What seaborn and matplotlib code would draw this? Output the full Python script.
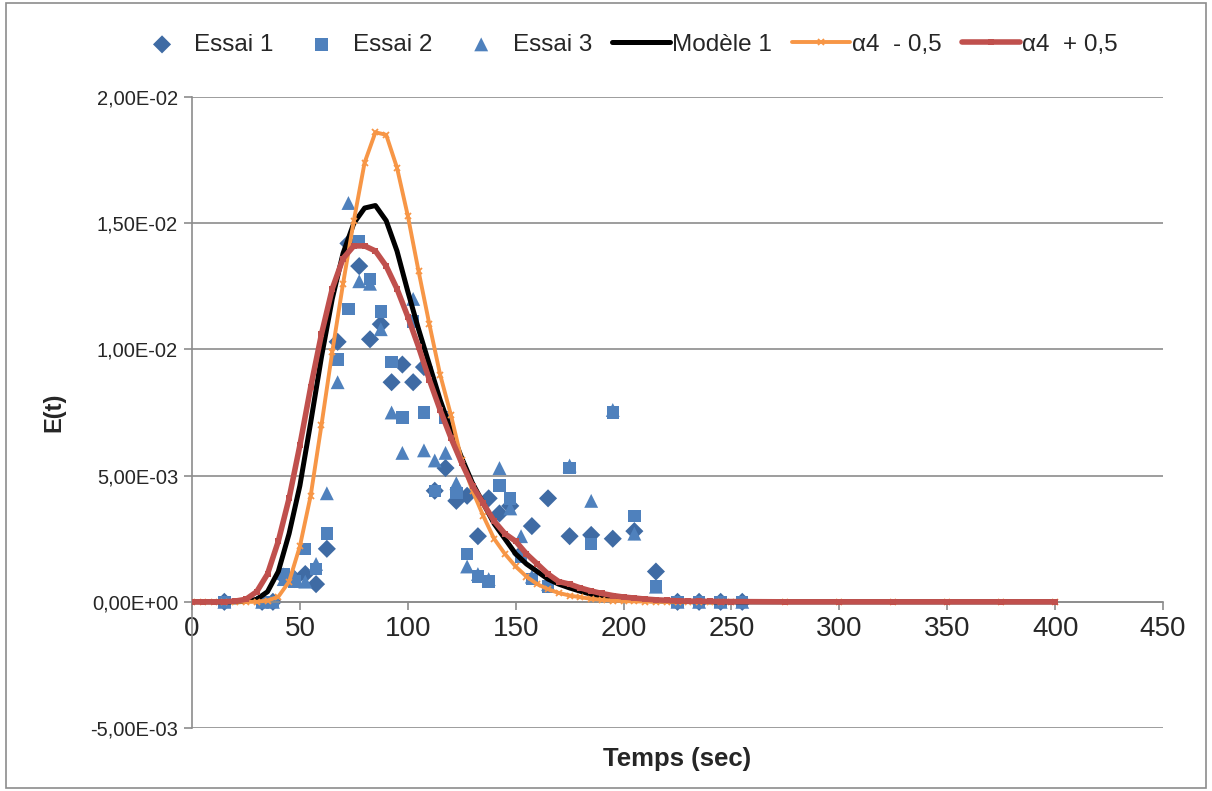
import seaborn as sns
import matplotlib.pyplot as plt
from matplotlib.ticker import FuncFormatter, MultipleLocator
from matplotlib.patches import Rectangle

# sampling times of the three runs (s)
t_essai = [15, 32.5, 37.5, 42.5, 47.5, 52.5, 57.5, 62.5, 67.5, 72.5, 77.5, 82.5,
           87.5, 92.5, 97.5, 102.5, 107.5, 112.5, 117.5, 122.5, 127.5, 132.5,
           137.5, 142.5, 147.5, 152.5, 157.5, 165, 175, 185, 195, 205, 215,
           225, 235, 245, 255]

essai1 = [0, 0, 0, 0.0010, 0.0009, 0.0011, 0.0007, 0.0021, 0.0103, 0.0142, 0.0133, 0.0104,
          0.0110, 0.0087, 0.0094, 0.0087, 0.0093, 0.0044, 0.0053, 0.0040, 0.0042, 0.0026,
          0.0041, 0.0035, 0.0038, 0.0019, 0.0030, 0.0041, 0.0026, 0.00265, 0.0025, 0.0028, 0.0012,
          0, 0, 0, 0]
essai2 = [0, 0, 0, 0.0011, 0.0008, 0.0021, 0.0013, 0.0027, 0.0096, 0.0116, 0.0143, 0.0128,
          0.0115, 0.0095, 0.0073, 0.0111, 0.0075, 0.0044, 0.0073, 0.0043, 0.0019, 0.0010,
          0.0008, 0.0046, 0.0041, 0.0018, 0.0009, 0.0006, 0.0053, 0.0023, 0.0075, 0.0034, 0.0006,
          0, 0, 0, 0]
essai3 = [0, 0, 0, 0.0009, 0.0010, 0.0008, 0.0015, 0.0043, 0.0087, 0.0158, 0.0127, 0.0126,
          0.0108, 0.0075, 0.0059, 0.0120, 0.0060, 0.0056, 0.0059, 0.0047, 0.0014, 0.0011,
          0.0009, 0.0053, 0.0037, 0.0026, 0.0010, 0.0007, 0.0054, 0.0040, 0.0076, 0.0027, 0.0006,
          0, 0, 0, 0]

# model time grid (s)
t_model = list(range(0, 255, 5)) + [275, 300, 325, 350, 375, 400]

modele1 = [0, 0, 0, 0, 0, 0.00002, 0.0001, 0.0004, 0.0012, 0.0027,
           0.0046, 0.0071, 0.0097, 0.0120, 0.0138, 0.0150, 0.0156, 0.0157, 0.0151, 0.0139,
           0.0123, 0.0108, 0.0094, 0.0080, 0.0068, 0.0057, 0.0047, 0.0039, 0.0031, 0.0025,
           0.0019, 0.0015, 0.0012, 0.0009, 0.0007, 0.00055, 0.00042, 0.0003, 0.00022, 0.00017,
           0.00012, 0.00009, 0.00006, 0.00004, 0.00003, 0.00002, 0.00001, 0.00001, 0, 0,
           0,
           0, 0, 0, 0, 0, 0]
alpha_moins = [0, 0, 0, 0, 0, 0, 0, 0.00005, 0.0002, 0.0008,
               0.0022, 0.0042, 0.0070, 0.0099, 0.0126, 0.0151, 0.0174, 0.0186, 0.0185, 0.0172,
               0.0153, 0.0131, 0.0110, 0.0090, 0.0074, 0.0056, 0.0044, 0.0034, 0.0025, 0.0019,
               0.0014, 0.0010, 0.0007, 0.0005, 0.00035, 0.00025, 0.00018, 0.00012, 0.00008, 0.00005,
               0.00003, 0.00002, 0.00001, 0, 0, 0, 0, 0, 0, 0,
               0,
               0, 0, 0, 0, 0, 0]
alpha_plus = [0, 0, 0, 0, 0.00003, 0.0001, 0.0004, 0.0011, 0.0024, 0.0041,
              0.0062, 0.0085, 0.0106, 0.0124, 0.0136, 0.0141, 0.0141, 0.0139, 0.0133, 0.0124,
              0.0113, 0.0101, 0.0088, 0.0076, 0.0065, 0.0055, 0.0046, 0.0039, 0.0032, 0.0027,
              0.0024, 0.0019, 0.0015, 0.0011, 0.0008, 0.0007, 0.00055, 0.00043, 0.00033, 0.00025,
              0.00019, 0.00015, 0.00011, 0.00008, 0.00006, 0.00004, 0.00003, 0.00002, 0.00002, 0.00001,
              0.00001,
              0, 0, 0, 0, 0, 0]

sns.set_style("white")
plt.rcParams['font.family'] = ['Liberation Sans', 'DejaVu Sans']

fig = plt.figure(figsize=(12.12, 7.91), dpi=100)
ax = fig.add_axes([0.1584, 0.0796, 0.8012, 0.7978])

# chart border
fig.patches.append(Rectangle((0.005, 0.004), 0.99, 0.992, transform=fig.transFigure,
                             fill=False, edgecolor='#8c8c8c', linewidth=1.2))

sns.scatterplot(x=t_essai, y=essai1, marker='D', s=85, color='#3F6BA4', edgecolor='none',
                label='Essai 1', ax=ax, zorder=2)
sns.scatterplot(x=t_essai, y=essai2, marker='s', s=80, color='#4F81BD', edgecolor='none',
                label='Essai 2', ax=ax, zorder=2)
sns.scatterplot(x=t_essai, y=essai3, marker='^', s=100, color='#4F81BD', edgecolor='none',
                label='Essai 3', ax=ax, zorder=2)

sns.lineplot(x=t_model, y=modele1, color='black', linewidth=3.6, sort=False,
             label='Modèle 1', ax=ax, zorder=3)
sns.lineplot(x=t_model, y=alpha_moins, color='#F79646', linewidth=2.8, sort=False,
             marker='x', markersize=4.5, markeredgewidth=1.3, markeredgecolor='#F79646',
             label='α4  - 0,5', ax=ax, zorder=4)
sns.lineplot(x=t_model, y=alpha_plus, color='#C0504D', linewidth=4.0, sort=False,
             marker='s', markersize=5, markeredgewidth=0,
             label='α4  + 0,5', ax=ax, zorder=5)

ax.set_xlim(0, 450)
ax.set_ylim(-0.005, 0.02)
ax.xaxis.set_major_locator(MultipleLocator(50))
ax.yaxis.set_major_locator(MultipleLocator(0.005))
ax.yaxis.set_major_formatter(FuncFormatter(lambda v, p: f"{v:.2E}".replace('.', ',')))

ax.grid(axis='y', color='#8c8c8c', linewidth=1.2)
ax.grid(axis='x', visible=False)
ax.set_axisbelow(True)
for side in ['top', 'right']:
    ax.spines[side].set_visible(False)
ax.spines['bottom'].set_position(('data', 0))
ax.spines['bottom'].set_color('#8c8c8c')
ax.spines['bottom'].set_linewidth(1.2)
ax.spines['left'].set_color('#8c8c8c')
ax.spines['left'].set_linewidth(1.2)

ax.tick_params(axis='x', direction='out', length=6, width=1.2, color='#8c8c8c',
               labelsize=20, pad=4, bottom=True)
ax.tick_params(axis='y', direction='out', length=6, width=1.2, color='#8c8c8c',
               labelsize=14.5, pad=4, left=True)

ax.set_xlabel('Temps (sec)', fontsize=18.5, fontweight='bold', labelpad=0)
ax.xaxis.set_label_coords(0.5, -0.03)
ax.set_ylabel('E(t)', fontsize=17, fontweight='bold', labelpad=18)

handles, labels = ax.get_legend_handles_labels()
ax.get_legend().remove()
fig.legend(handles, labels, loc='upper center', bbox_to_anchor=(0.516, 0.985), ncol=6,
           frameon=False, fontsize=17.5, handlelength=2.4, handletextpad=0.1,
           columnspacing=0.8)

fig.savefig('out.png', dpi=100)
